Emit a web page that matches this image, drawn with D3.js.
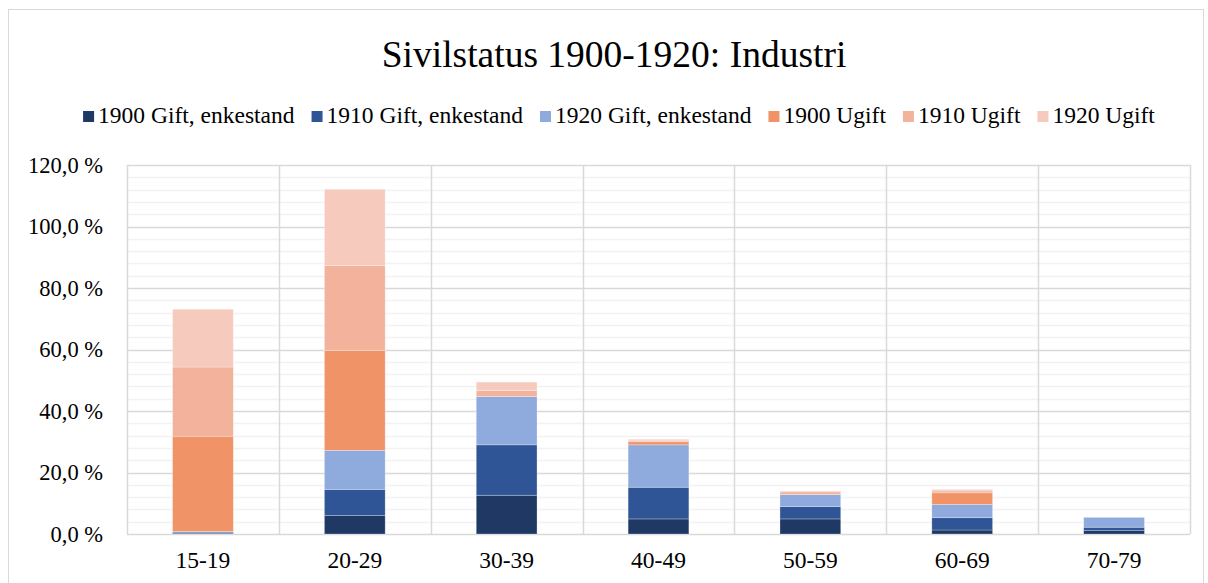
<!DOCTYPE html>
<html lang="no">
<head>
    <meta charset="UTF-8">
    <script src="https://d3js.org/d3.v7.min.js"></script>
    <title>Sivilstatus 1900-1920: Industri</title>
    <style>
        body { margin: 0; background: #fff; }
        text { font-family: "Liberation Serif", "Times New Roman", serif; fill: #000; }
    </style>
</head>
<body>
<svg id="chart"></svg>
<script>

const width = 1208
const height = 583

// values (percent)
const categories = ["15-19", "20-29", "30-39", "40-49", "50-59", "60-69", "70-79"]
const seriesNames = ["1900 Gift, enkestand", "1910 Gift, enkestand", "1920 Gift, enkestand", "1900 Ugift", "1910 Ugift", "1920 Ugift"]
const gift1900 = [0.1, 6.0, 12.6, 4.9, 4.9, 1.3, 1.1]
const gift1910 = [0.5, 8.5, 16.4, 10.3, 4.0, 4.0, 1.1]
const gift1920 = [0.2, 12.7, 15.7, 13.8, 3.9, 4.3, 3.2]
const ugift1900 = [31.0, 32.5, 0.1, 1.0, 0.1, 3.8, 0]
const ugift1910 = [22.5, 27.6, 1.9, 0.3, 0.8, 0.6, 0]
const ugift1920 = [18.8, 24.8, 2.7, 0.5, 0.3, 0.5, 0]
const yTicks = [0, 20, 40, 60, 80, 100, 120]
const colors = ["#203864", "#2f5597", "#8faadc", "#f09367", "#f2b29b", "#f6cbbe"]

const allSeries = [gift1900, gift1910, gift1920, ugift1900, ugift1910, ugift1920]
const rows = categories.map((c, i) => {
    let r = { cat: c }
    seriesNames.forEach((s, j) => r[s] = allSeries[j][i])
    return r
})
const stacked = d3.stack().keys(seriesNames)(rows)

let svg = d3.select("#chart").attr("width", width).attr("height", height)

// chart border
svg.append("rect")
    .attr("x", 8.5).attr("y", 9.5)
    .attr("width", 1195).attr("height", 600)
    .attr("fill", "none").attr("stroke", "#d9d9d9")

let plot = { left: 127, right: 1190, top: 165, bottom: 534 }

let x = d3.scaleBand().domain(categories).range([plot.left, plot.right]).paddingInner(0.6).paddingOuter(0.3)
let slot = d3.scaleBand().domain(categories).range([plot.left, plot.right]).padding(0)
let y = d3.scaleLinear().domain([0, 120]).range([plot.bottom, plot.top])

// minor gridlines every 4 %
svg.append("g")
    .selectAll("line")
    .data(d3.range(0, 121, 4).filter(v => v % 20 != 0))
    .enter()
    .append("line")
    .attr("x1", plot.left).attr("x2", plot.right)
    .attr("y1", d => Math.round(y(d)) + 0.5).attr("y2", d => Math.round(y(d)) + 0.5)
    .attr("stroke", "#f2f2f2").attr("stroke-width", 1.5)

// major gridlines
svg.append("g")
    .selectAll("line")
    .data(yTicks)
    .enter()
    .append("line")
    .attr("x1", plot.left).attr("x2", plot.right)
    .attr("y1", d => Math.round(y(d)) + 0.5).attr("y2", d => Math.round(y(d)) + 0.5)
    .attr("stroke", "#d9d9d9").attr("stroke-width", 1.5)

// vertical category gridlines
svg.append("g")
    .selectAll("line")
    .data(categories.map(c => slot(c)).concat([plot.right]))
    .enter()
    .append("line")
    .attr("x1", d => Math.round(d) + 0.5).attr("x2", d => Math.round(d) + 0.5)
    .attr("y1", plot.top).attr("y2", plot.bottom)
    .attr("stroke", "#d9d9d9").attr("stroke-width", 1.5)

// bars
svg.append("g")
    .selectAll("g")
    .data(stacked)
    .enter()
    .append("g")
    .attr("fill", (d, i) => colors[i])
    .selectAll("rect")
    .data(d => d)
    .enter()
    .append("rect")
    .attr("x", d => x(d.data.cat))
    .attr("width", x.bandwidth())
    .attr("y", d => y(d[1]))
    .attr("height", d => y(d[0]) - y(d[1]))
    .attr("stroke", "#ffffff").attr("stroke-opacity", 0.35).attr("stroke-width", 0.75)

// y axis labels
let yAxis = d3.axisLeft(y).tickValues(yTicks).tickSize(0).tickPadding(0)
    .tickFormat(d => d3.format(".1f")(d).replace(".", ",") + " %")
svg.append("g")
    .attr("transform", "translate(103,0)")
    .call(yAxis)
    .call(g => g.select(".domain").remove())
    .selectAll("text")
    .style("font-size", "22.5px")
    .style("font-family", "Liberation Serif")
    .attr("dy", "0.33em")

// x axis labels
let xAxis = d3.axisBottom(slot).tickSize(0).tickPadding(0)
svg.append("g")
    .attr("transform", `translate(0,${plot.bottom + 17})`)
    .call(xAxis)
    .call(g => g.select(".domain").remove())
    .selectAll("text")
    .style("font-size", "23.5px")
    .style("font-family", "Liberation Serif")
    .attr("dy", "0.71em")

// title
svg.append("text")
    .attr("x", 614).attr("y", 67)
    .attr("text-anchor", "middle")
    .style("font-size", "37.5px")
    .text("Sivilstatus 1900-1920: Industri")

// legend, centred
let legend = svg.append("g")
let lx = 0
const gap = 17
seriesNames.forEach((s, i) => {
    let g = legend.append("g")
    g.append("rect").attr("x", 0).attr("y", -12).attr("width", 11).attr("height", 11).attr("fill", colors[i])
    let t = g.append("text").attr("x", 15).attr("y", 0).style("font-size", "23.5px").text(s)
    let w = 15 + t.node().getComputedTextLength()
    g.attr("transform", `translate(${lx},0)`)
    lx += w + gap
})
let legendWidth = lx - gap
legend.attr("transform", `translate(${(width - legendWidth) / 2 + 15},${123})`)

</script>
</body>
</html>
